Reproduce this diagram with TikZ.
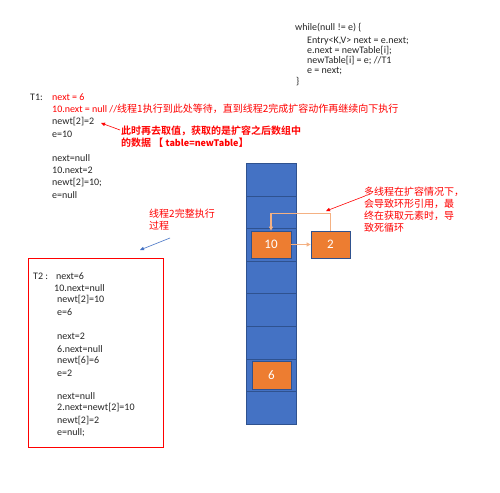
\documentclass[tikz,border=0pt]{standalone}
\usepackage{fontspec}
\setmainfont{Carlito}
\newfontfamily\cjk{Noto Sans CJK SC}
\newfontfamily\cjkb{Noto Sans CJK SC Bold}
\usetikzlibrary{arrows.meta}
\definecolor{cellblue}{HTML}{4472C4}
\definecolor{celledge}{HTML}{2F528F}
\definecolor{boxorange}{HTML}{ED7D31}
\definecolor{lightorange}{HTML}{F4B183}
\definecolor{redtxt}{HTML}{FF0000}
\definecolor{codetxt}{HTML}{262626}
\tikzset{
  txt/.style={anchor=west, inner sep=0pt, text=codetxt, font=\fontsize{10}{12}\selectfont},
  redt/.style={txt, text=redtxt},
  cjknote/.style={anchor=north west, inner sep=0pt, text=redtxt, align=left, font=\fontsize{10}{11.8}\selectfont\cjk},
  cell/.style={draw=celledge, fill=boxorange, line width=0.8pt, minimum width=39pt, minimum height=27pt, inner sep=0pt, text=white, font=\fontsize{13}{15}\selectfont},
  redarrow/.style={draw=redtxt, line width=0.6pt, -{Triangle[length=4pt,width=3.5pt]}},
  bluearrow/.style={draw=cellblue, line width=0.6pt, -{Triangle[length=4pt,width=3.5pt]}},
  orangearrow/.style={draw=lightorange, line width=1.2pt, -{Triangle[length=4pt,width=4pt]}}
}
\begin{document}
\begin{tikzpicture}[x=1pt,y=-1pt]
\useasboundingbox (0,0) rectangle (500,492);
% code block
\node[txt] (w1) at (295,28) {while(null != e) \{};
\node[txt] (w2) at (307,41) {Entry<K,V> next = e.next;};
\node[txt] (w3) at (307,51) {e.next = newTable[i];};
\node[txt] (w4) at (307,61) {newTable[i] = e; //T1};
\node[txt] (w5) at (307,71) {e = next;};
\node[txt] (w6) at (296,82) {\}};
% T1 block
\node[txt] (t1) at (30,97) {T1:};
\node[redt] (a1) at (52,97) {next = 6};
\node[redt] (a2) at (52,109) {10.next = null //{\fontsize{10}{12}\selectfont\cjk 线程1执行到此处等待，直到线程2完成扩容动作再继续向下执行}};
\node[txt] (a3) at (52,122) {newt[2]=2};
\node[txt] (a4) at (52,134) {e=10};
\node[txt] (a5) at (52,158) {next=null};
\node[txt] (a6) at (52,170) {10.next=2};
\node[txt] (a7) at (52,183) {newt[2]=10;};
\node[txt] (a8) at (52,195) {e=null};
\node[cjknote, font=\fontsize{10}{11.5}\selectfont\cjkb] (n1) at (121,126) {此时再去取值，获取的是扩容之后数组中\\的数据 【 {\fontsize{9}{10}\selectfont\bfseries table=newTable}】};
\coordinate (n1tail) at (120,130);
\coordinate (n1tip) at (101,123);
\draw[redarrow] (n1tail) -- (n1tip);
% thread 2 note
\node[cjknote] (n2) at (149,209) {线程2完整执行\\过程};
\coordinate (n2tail) at (170,238);
\coordinate (n2tip) at (140,250);
\draw[bluearrow] (n2tail) -- (n2tip);
% T2 box
\draw[draw=redtxt, line width=0.8pt] (28,258) rectangle (163,447);
\node[txt] (t2) at (33,276) {T2 :};
\node[txt] (b1) at (56,276) {next=6};
\node[txt] (b2) at (54,288) {10.next=null};
\node[txt] (b3) at (57,300) {newt[2]=10};
\node[txt] (b4) at (57,312) {e=6};
\node[txt] (b5) at (57,336) {next=2};
\node[txt] (b6) at (57,349) {6.next=null};
\node[txt] (b7) at (57,361) {newt[6]=6};
\node[txt] (b8) at (57,373) {e=2};
\node[txt] (b9) at (57,396) {next=null};
\node[txt] (b10) at (57,408) {2.next=newt[2]=10};
\node[txt] (b11) at (57,421) {newt[2]=2};
\node[txt] (b12) at (57,433) {e=null;};
% table column
\draw[fill=cellblue, draw=celledge, line width=0.6pt] (246,163) rectangle (296,424);
\foreach \yy in {196,228,261,293,326,359,391}
  \draw[celledge, line width=0.8pt] (246,\yy) -- (296,\yy);
\node[cell, minimum width=40pt] (c10) at (271,244.5) {10};
\node[cell] (c2) at (330.5,244.5) {2};
\node[cell, minimum height=28pt] (c6) at (271.5,375) {6};
\draw[orangearrow] (c10) -- (c2);
\draw[orangearrow] (c2.north) -- ++(0,-17) -| (c10.north);
% loop note
\node[cjknote] (n3) at (364,187) {多线程在扩容情况下，\\会导致环形引用，最\\终在获取元素时，导\\致死循环};
\coordinate (n3tail) at (365,196);
\coordinate (n3tip) at (326,211);
\draw[redarrow] (n3tail) -- (n3tip);
\end{tikzpicture}
\end{document}
